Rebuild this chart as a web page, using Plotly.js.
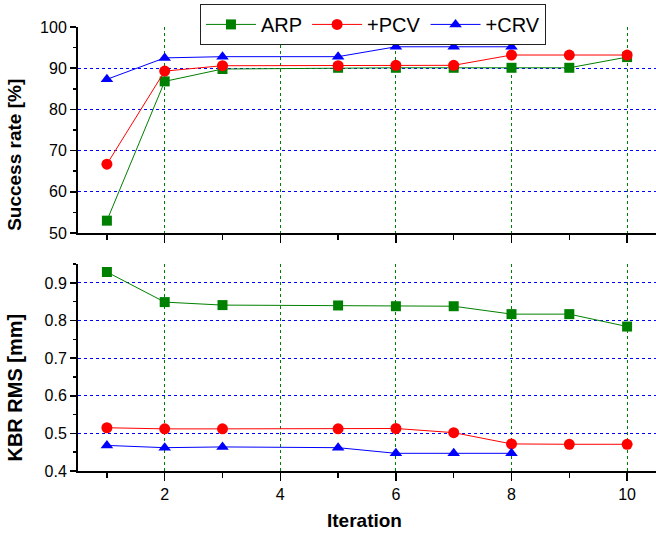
<!DOCTYPE html>
<html><head><meta charset="utf-8">
<script src="https://cdn.plot.ly/plotly-3.0.1.min.js"></script>
<style>html,body{margin:0;padding:0;background:#fff}</style>
</head><body><div id="chart" style="width:656px;height:540px"></div>
<script>
const iterations = [1, 2, 3, 5, 6, 7, 8, 9, 10];
const iterationsCRV = [1, 2, 3, 5, 6, 7, 8];
const successARP = [53.0, 86.8, 89.8, 90.1, 90.1, 90.1, 90.1, 90.1, 92.7];
const successPCV = [66.7, 89.3, 90.6, 90.6, 90.7, 90.7, 93.2, 93.2, 93.2];
const successCRV = [87.3, 92.5, 92.8, 92.8, 95.2, 95.2, 95.2];
const kbrARP = [0.929, 0.849, 0.841, 0.840, 0.838, 0.838, 0.817, 0.817, 0.784];
const kbrPCV = [0.515, 0.512, 0.512, 0.512, 0.513, 0.502, 0.472, 0.471, 0.471];
const kbrCRV = [0.468, 0.462, 0.464, 0.462, 0.447, 0.447, 0.447];
const seriesNames = ['ARP', '+PCV', '+CRV'];
const titles = {top: 'Success rate [%]', bottom: 'KBR RMS [mm]', x: 'Iteration'};

const font = 'Liberation Sans, Arial, sans-serif';
const green = '#008000', red = '#ff0000', blue = '#0000ff';
const mk = {
  ARP: {symbol: 'square', size: 10, color: green},
  PCV: {symbol: 'circle', size: 11, color: red},
  CRV: {symbol: 'triangle-up', size: 11, color: blue}
};
const traces = [
  {x: iterations, y: successARP, name: seriesNames[0], xaxis: 'x2', yaxis: 'y2', mode: 'lines+markers', line: {color: green, width: 1}, marker: mk.ARP},
  {x: iterations, y: successPCV, name: seriesNames[1], xaxis: 'x2', yaxis: 'y2', mode: 'lines+markers', line: {color: red, width: 1}, marker: mk.PCV},
  {x: iterationsCRV, y: successCRV, name: seriesNames[2], xaxis: 'x2', yaxis: 'y2', mode: 'lines+markers', line: {color: blue, width: 1}, marker: mk.CRV},
  {x: iterations, y: kbrARP, name: seriesNames[0], xaxis: 'x', yaxis: 'y', mode: 'lines+markers', line: {color: green, width: 1}, marker: mk.ARP, showlegend: false},
  {x: iterations, y: kbrPCV, name: seriesNames[1], xaxis: 'x', yaxis: 'y', mode: 'lines+markers', line: {color: red, width: 1}, marker: mk.PCV, showlegend: false},
  {x: iterationsCRV, y: kbrCRV, name: seriesNames[2], xaxis: 'x', yaxis: 'y', mode: 'lines+markers', line: {color: blue, width: 1}, marker: mk.CRV, showlegend: false}
];

const xBase = {
  range: [0.5, 10.5], dtick: 2, tick0: 0, showline: true, linecolor: '#000', linewidth: 2,
  ticks: 'outside', ticklen: 8, tickwidth: 1.5, tickcolor: '#000',
  showgrid: true, gridcolor: green, griddash: 'dot', gridwidth: 1, zeroline: false,
  minor: {dtick: 1, tick0: 0, ticks: 'outside', ticklen: 5, tickcolor: '#000', showgrid: false},
  tickfont: {family: font, size: 16, color: '#000'}
};
const yBase = {
  showline: true, linecolor: '#000', linewidth: 2, ticks: 'outside', ticklen: 6, tickwidth: 1.5, tickcolor: '#000',
  showgrid: true, gridcolor: blue, griddash: 'dot', gridwidth: 1, zeroline: false,
  tickfont: {family: font, size: 16, color: '#000'}
};
const titleFont = {family: font, size: 20, color: '#000', weight: 'bold'};

const layout = {
  width: 656, height: 540,
  margin: {l: 78, r: 0, t: 27, b: 69},
  paper_bgcolor: '#fff', plot_bgcolor: '#fff',
  showlegend: true,
  legend: {orientation: 'h', x: 0.211, y: 1.052, xanchor: 'left', yanchor: 'top',
    bordercolor: '#222', borderwidth: 1, bgcolor: '#fff',
    font: {family: font, size: 20, color: '#000'}, itemwidth: 50},
  xaxis: Object.assign({}, xBase, {anchor: 'y'}),
  xaxis2: Object.assign({}, xBase, {anchor: 'y2', matches: 'x', showticklabels: false}),
  yaxis: Object.assign({}, yBase, {domain: [0, 0.466], anchor: 'x', range: [0.4, 0.95], dtick: 0.1, tick0: 0,
    tickformat: '.1f',
    minor: {dtick: 0.05, tick0: 0, ticks: 'outside', ticklen: 3, tickcolor: '#000', showgrid: false}}),
  yaxis2: Object.assign({}, yBase, {domain: [0.536, 1], anchor: 'x2', range: [50, 100], dtick: 10, tick0: 0,
    minor: {dtick: 5, tick0: 0, ticks: 'outside', ticklen: 3, tickcolor: '#000', showgrid: false}}),
  annotations: [
    {text: titles.top, xref: 'paper', yref: 'paper', x: -0.109, y: 0.712, xanchor: 'center', yanchor: 'middle', textangle: -90, showarrow: false, font: Object.assign({}, titleFont, {size: 19})},
    {text: titles.bottom, xref: 'paper', yref: 'paper', x: -0.109, y: 0.188, xanchor: 'center', yanchor: 'middle', textangle: -90, showarrow: false, font: titleFont},
    {text: titles.x, xref: 'paper', yref: 'paper', x: 0.4965, y: -0.112, xanchor: 'center', yanchor: 'middle', showarrow: false, font: Object.assign({}, titleFont, {size: 19})}
  ]
};

Plotly.newPlot('chart', traces, layout, {displayModeBar: false, staticPlot: true});
</script></body></html>
